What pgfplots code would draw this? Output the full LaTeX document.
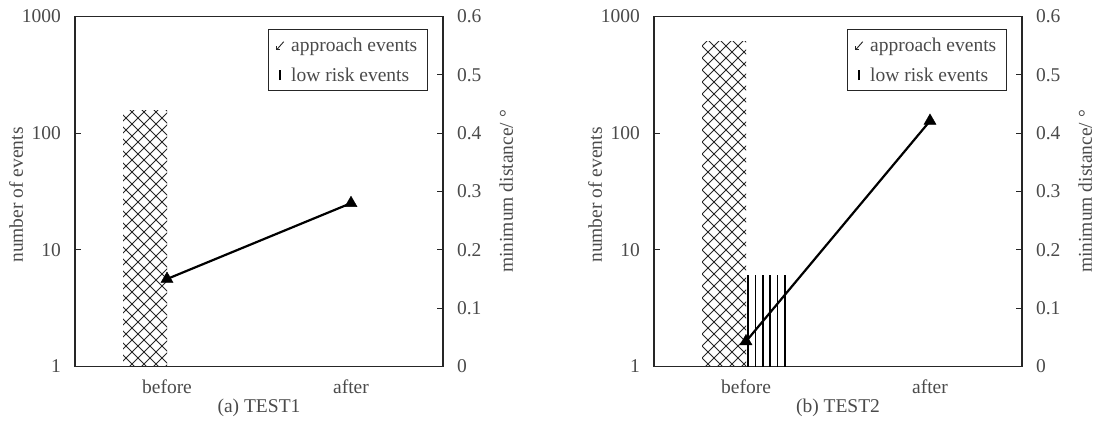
\documentclass[border=0pt]{standalone}
\usepackage{fontspec}
\setmainfont{Liberation Serif}
\usepackage{pgfplots}
\pgfplotsset{compat=1.18}
\usetikzlibrary{patterns}
\definecolor{txt}{HTML}{4A4A4A}
\definecolor{axc}{HTML}{262626}
\newcommand{\fs}{\fontsize{19.5}{23}\selectfont}
\pgfdeclarepatternformonly{diamx}{\pgfpoint{-0.5pt}{-0.5pt}}{\pgfpoint{12.5pt}{12.5pt}}{\pgfpoint{12pt}{12pt}}{%
  \pgfsetlinewidth{0.8pt}%
  \pgfpathmoveto{\pgfpoint{0pt}{0pt}}\pgfpathlineto{\pgfpoint{12pt}{12pt}}%
  \pgfpathmoveto{\pgfpoint{0pt}{12pt}}\pgfpathlineto{\pgfpoint{12pt}{0pt}}%
  \pgfusepath{stroke}}
\pgfdeclarepatternformonly{vstripes}{\pgfpoint{0pt}{-1pt}}{\pgfpoint{7.3pt}{11pt}}{\pgfpoint{7.3pt}{10pt}}{%
  \pgfsetlinewidth{1.6pt}%
  \pgfpathmoveto{\pgfpoint{3.65pt}{-1pt}}\pgfpathlineto{\pgfpoint{3.65pt}{11pt}}%
  \pgfusepath{stroke}}
\pgfplotsset{
  every axis/.append style={
    scale only axis, width=368pt, height=350pt,
    xmin=-0.5, xmax=1.5, xtick={0,1}, xticklabels={before,after},
    xtick style={draw=none},
    tick align=inside, major tick length=6pt,
    axis line style={axc, line width=1.2pt},
    ytick style={axc, line width=1.2pt},
    tick label style={font=\fs, text=txt},
    label style={font=\fs, text=txt},
    xticklabel style={yshift=-10pt},
  },
}
\begin{document}
\begin{tikzpicture}
\path[use as bounding box] (-75pt,-57.5pt) rectangle (1024pt,366.5pt);
% ---------- panel (a)
\begin{axis}[name=a1, at={(0pt,0pt)}, anchor=south west,
    ymode=log, ymin=1, ymax=1000,
    ytick={1,10,100,1000}, yticklabels={1,10,100,1000},
    yminorticks=false, ytick pos=left, xtick pos=bottom,
    yticklabel style={xshift=-10.5pt},
    ylabel={number of events},
    ylabel style={at={(axis description cs:-0.16,0.49)}, anchor=center},
    legend style={at={(0.959,0.964)}, anchor=north east, draw=axc, line width=1.2pt,
      fill=white, font=\fs, text=txt, inner xsep=8pt, inner ysep=6pt, row sep=11pt,
      /tikz/every odd column/.append style={column sep=5pt}},
    legend cell align=left]
  \addlegendimage{legend image code/.code={\draw[axc, line width=0.9pt] (0pt,-4.5pt)--(7pt,3.5pt); \draw[axc, line width=0.9pt] (0pt,-4.5pt)--(0pt,-1pt) (0pt,-4.5pt)--(3.5pt,-4.5pt);}}
  \addlegendentry{approach events}
  \addlegendimage{legend image code/.code={\draw[black, line width=1.8pt] (3.5pt,-5pt)--(3.5pt,5pt);}}
  \addlegendentry{low risk events}
  \addplot[ybar, bar width=44pt, bar shift=-22pt, draw=none, pattern=diamx, pattern color=axc, forget plot] coordinates {(0,157)};
\end{axis}
\begin{axis}[at={(0pt,0pt)}, anchor=south west,
    axis y line*=right, axis x line=none,
    ymin=0, ymax=0.6,
    ytick={0,0.1,0.2,0.3,0.4,0.5,0.6}, yticklabels={0,0.1,0.2,0.3,0.4,0.5,0.6},
    yticklabel style={xshift=10.5pt},
    ylabel={minimum distance/ °},
    ylabel style={at={(axis description cs:1.172,0.5)}, anchor=center}]
  \addplot[black, line width=2.2pt, mark=triangle*, mark size=7pt, mark options={solid, fill=black, line width=0.4pt}] coordinates {(0,0.150) (1,0.280)};
\end{axis}
\node[font=\fs, text=txt] at ([yshift=-41.5pt]a1.south) {(a) TEST1};
% ---------- panel (b)
\begin{axis}[name=a2, at={(579pt,0pt)}, anchor=south west,
    ymode=log, ymin=1, ymax=1000,
    ytick={1,10,100,1000}, yticklabels={1,10,100,1000},
    yminorticks=false, ytick pos=left, xtick pos=bottom,
    yticklabel style={xshift=-10.5pt},
    ylabel={number of events},
    ylabel style={at={(axis description cs:-0.16,0.49)}, anchor=center},
    legend style={at={(0.959,0.964)}, anchor=north east, draw=axc, line width=1.2pt,
      fill=white, font=\fs, text=txt, inner xsep=8pt, inner ysep=6pt, row sep=11pt,
      /tikz/every odd column/.append style={column sep=5pt}},
    legend cell align=left]
  \addlegendimage{legend image code/.code={\draw[axc, line width=0.9pt] (0pt,-4.5pt)--(7pt,3.5pt); \draw[axc, line width=0.9pt] (0pt,-4.5pt)--(0pt,-1pt) (0pt,-4.5pt)--(3.5pt,-4.5pt);}}
  \addlegendentry{approach events}
  \addlegendimage{legend image code/.code={\draw[black, line width=1.8pt] (3.5pt,-5pt)--(3.5pt,5pt);}}
  \addlegendentry{low risk events}
  \addplot[ybar, bar width=44pt, bar shift=-22pt, draw=none, pattern=diamx, pattern color=axc, forget plot] coordinates {(0,605)};
  \addplot[ybar, bar width=44pt, bar shift=22pt, draw=none, pattern=vstripes, pattern color=black, forget plot] coordinates {(0,6)};
\end{axis}
\begin{axis}[at={(579pt,0pt)}, anchor=south west,
    axis y line*=right, axis x line=none,
    ymin=0, ymax=0.6,
    ytick={0,0.1,0.2,0.3,0.4,0.5,0.6}, yticklabels={0,0.1,0.2,0.3,0.4,0.5,0.6},
    yticklabel style={xshift=10.5pt},
    ylabel={minimum distance/ °},
    ylabel style={at={(axis description cs:1.172,0.5)}, anchor=center}]
  \addplot[black, line width=2.2pt, mark=triangle*, mark size=7pt, mark options={solid, fill=black, line width=0.4pt}] coordinates {(0,0.043) (1,0.421)};
\end{axis}
\node[font=\fs, text=txt] at ([yshift=-41.5pt]a2.south) {(b) TEST2};
\end{tikzpicture}
\end{document}
